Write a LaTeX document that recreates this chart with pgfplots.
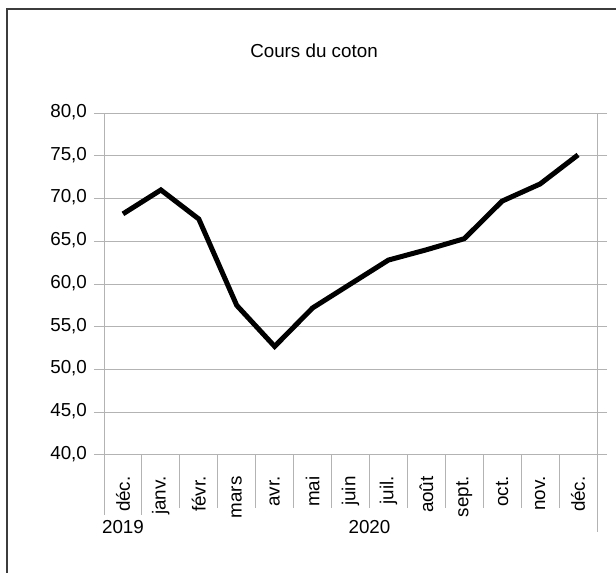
\documentclass[border=0pt]{standalone}
\usepackage{fontspec}
\setmainfont{Liberation Sans}
\usepackage{graphicx}
\usepackage{pgfplots}
\pgfplotsset{compat=1.18}
\definecolor{gridgray}{HTML}{B3B3B3}
\definecolor{framegray}{HTML}{3C3C3C}
\newcommand{\rl}[1]{\rotatebox{90}{#1}}

\begin{document}
\begin{tikzpicture}
\path[use as bounding box] (0,0) rectangle (308pt,286.5pt);
% outer frame (cropped on the right and bottom)
\draw[framegray, line width=1pt] (3.5pt,0) -- (3.5pt,281.8pt) -- (308pt,281.8pt);
\node[font=\fontsize{9.4}{11}\selectfont] at (157pt,261pt) {Cours du coton};
\begin{axis}[
    at={(52pt,59pt)}, anchor=south west,
    scale only axis,
    width=246.5pt, height=171pt,
    xmin=-0.5, xmax=12.5,
    ymin=40, ymax=80,
    ytick={40,45,...,80},
    xtick={0,...,12},
    xticklabels={\rl{déc.},\rl{janv.},\rl{févr.},\rl{mars},\rl{avr.},\rl{mai},\rl{juin},\rl{juil.},\rl{août},\rl{sept.},\rl{oct.},\rl{nov.},\rl{déc.}},
    xticklabel style={anchor=north, inner sep=0pt, yshift=-5.5pt},
    typeset ticklabels with strut=false,
    tick label style={font=\fontsize{9.4}{11}\selectfont},
    /pgf/number format/.cd, fixed, fixed zerofill, precision=1, use comma, assume math mode=true,
    /pgfplots/.cd,
    axis line style={gridgray, line width=0.5pt},
    ymajorgrids,
    grid style={gridgray, line width=0.5pt},
    tick align=outside,
    major tick length=5pt,
    ytick style={gridgray, line width=0.5pt},
    xtick style={draw=none},
    clip=false,
]
\addplot[black, line width=2.5pt] coordinates {
    (0,68.2) (1,71.0) (2,67.6) (3,57.5) (4,52.7) (5,57.2) (6,60.0)
    (7,62.8) (8,64.0) (9,65.3) (10,69.7) (11,71.7) (12,75.1)
};
% category separators below the axis
\pgfplotsinvokeforeach{1.5,2.5,...,11.5}{
    \draw[gridgray, line width=0.5pt] (axis cs:#1,40) -- (axis cs:#1,33.8);
}
\draw[gridgray, line width=0.5pt] (axis cs:-0.5,40) -- (axis cs:-0.5,33.0);
\draw[gridgray, line width=0.5pt] (axis cs:0.5,40) -- (axis cs:0.5,33.0);
\draw[gridgray, line width=0.5pt] (axis cs:12.5,40) -- (axis cs:12.5,31.0);
\node[font=\fontsize{9.4}{11}\selectfont] at (axis cs:0,31.6) {2019};
\node[font=\fontsize{9.4}{11}\selectfont] at (axis cs:6.5,31.6) {2020};
\end{axis}
\end{tikzpicture}
\end{document}
